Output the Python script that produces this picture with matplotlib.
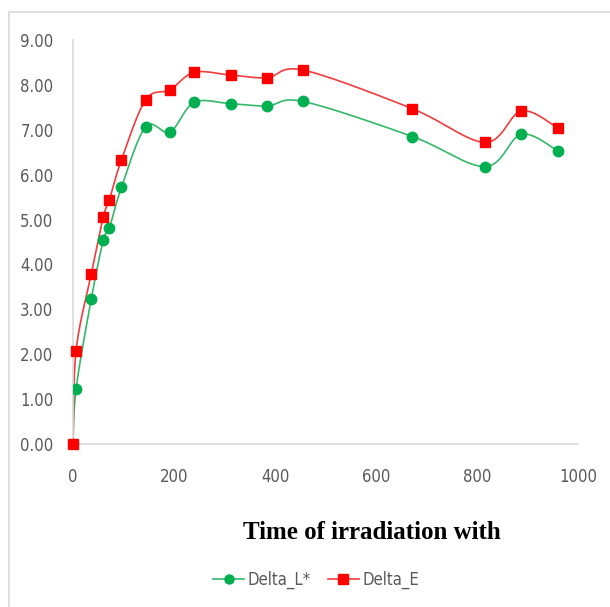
import numpy as np
import matplotlib
matplotlib.use("Agg")
import matplotlib.pyplot as plt
from matplotlib.patches import Rectangle
from matplotlib.lines import Line2D
from matplotlib import font_manager
from matplotlib.font_manager import FontProperties

# Data
time_h = [0, 6, 36, 60, 72, 96, 144, 192, 240, 312, 384, 456, 672, 816, 888, 960]
delta_L = [0.00, 1.22, 3.22, 4.54, 4.81, 5.72, 7.07, 6.95, 7.61, 7.58, 7.53, 7.63, 6.85, 6.18, 6.90, 6.53]
delta_E = [0.00, 2.07, 3.78, 5.06, 5.44, 6.33, 7.67, 7.89, 8.28, 8.22, 8.16, 8.33, 7.47, 6.72, 7.42, 7.04]
x_ticks = [0, 200, 400, 600, 800, 1000]
y_ticks = [0, 1, 2, 3, 4, 5, 6, 7, 8, 9]
series_names = ["Delta_L*", "Delta_E"]
x_title = "Time of irradiation with"

# look for a condensed sans font (Calibri-like narrow look); otherwise Lato
cond = None
for f in font_manager.fontManager.ttflist:
    fn = f.fname.lower()
    if ("narrow" in fn or "condensed" in fn) and "bold" not in fn and "italic" not in fn \
            and "oblique" not in fn and "serif" not in fn.replace("sans", "") and "mono" not in fn:
        cond = f.fname
        break
if cond:
    tick_fp = FontProperties(fname=cond, size=12)
    leg_fp = FontProperties(fname=cond, size=12)
    ypad, xpad = 14, 17
else:
    tick_fp = FontProperties(family="Lato", size=12.5)
    leg_fp = FontProperties(family="Lato", size=12)
    ypad, xpad = 20, 18


def smooth(x, y, n=30):
    """Excel-like smooth line (Catmull-Rom converted to cubic Bezier)."""
    P = np.column_stack([x, y]).astype(float)
    out = [P[0]]
    for i in range(len(P) - 1):
        p0 = P[i - 1] if i > 0 else P[i]
        p1 = P[i]
        p2 = P[i + 1]
        p3 = P[i + 2] if i + 2 < len(P) else P[i + 1]
        c1 = p1 + (p2 - p0) / 6.0
        c2 = p2 - (p3 - p1) / 6.0
        t = np.linspace(0, 1, n)[1:, None]
        seg = ((1 - t) ** 3) * p1 + 3 * ((1 - t) ** 2) * t * c1 + 3 * (1 - t) * t ** 2 * c2 + t ** 3 * p2
        out.extend(seg)
    out = np.array(out)
    return out[:, 0], out[:, 1]


fig = plt.figure(figsize=(6.10, 6.07), dpi=100)
ax = fig.add_axes([73 / 610, (607 - 444) / 607, 505 / 610, 404 / 607])

green = "#00B050"
red = "#FF0000"
green_line = "#33b86a"
red_line = "#f03c3c"

sx, sy = smooth(time_h, delta_L)
ax.plot(sx, sy, color=green_line, lw=1.2, zorder=2)
ax.plot(time_h, delta_L, linestyle="none", marker="o", markersize=7.5, color=green, zorder=3)

sx, sy = smooth(time_h, delta_E)
ax.plot(sx, sy, color=red_line, lw=1.2, zorder=2)
ax.plot(time_h, delta_E, linestyle="none", marker="s", markersize=7.5, color=red, zorder=4, clip_on=False)

ax.set_xlim(0, 1000)
ax.set_ylim(0, 9)
ax.set_xticks(x_ticks)
ax.set_yticks(y_ticks)
ax.set_yticklabels([f"{v:.2f}" for v in y_ticks])
ax.tick_params(length=0, labelcolor="#595959")
ax.tick_params(axis="y", pad=ypad)
ax.tick_params(axis="x", pad=xpad)
for lab in ax.get_xticklabels() + ax.get_yticklabels():
    lab.set_fontproperties(tick_fp)
for s in ["top", "right"]:
    ax.spines[s].set_visible(False)
for s in ["left", "bottom"]:
    ax.spines[s].set_color("#d9d9d9")
    ax.spines[s].set_linewidth(1.2)

fig.text(372 / 610, 1 - 539 / 607, x_title, ha="center", va="baseline",
         fontsize=18, fontweight="bold", family="Liberation Serif", color="black")

handles = [
    Line2D([], [], color=green_line, lw=1.2, marker="o", markersize=6.5, markerfacecolor=green, markeredgecolor=green),
    Line2D([], [], color=red_line, lw=1.2, marker="s", markersize=6.5, markerfacecolor=red, markeredgecolor=red),
]
leg = fig.legend(handles, series_names, loc="center", bbox_to_anchor=(316 / 610, 1 - 580 / 607),
                 ncol=2, frameon=False, handlelength=1.9, columnspacing=1.0, handletextpad=0.2,
                 prop=leg_fp)
for t in leg.get_texts():
    t.set_color("#595959")

# chart-area border
fig.patches.append(Rectangle((9 / 610, -0.05), 1.2, 1 - 12 / 607 + 0.05, transform=fig.transFigure,
                             fill=False, edgecolor="#d9d9d9", lw=1.2, zorder=0))

fig.savefig("out.png", dpi=100)
